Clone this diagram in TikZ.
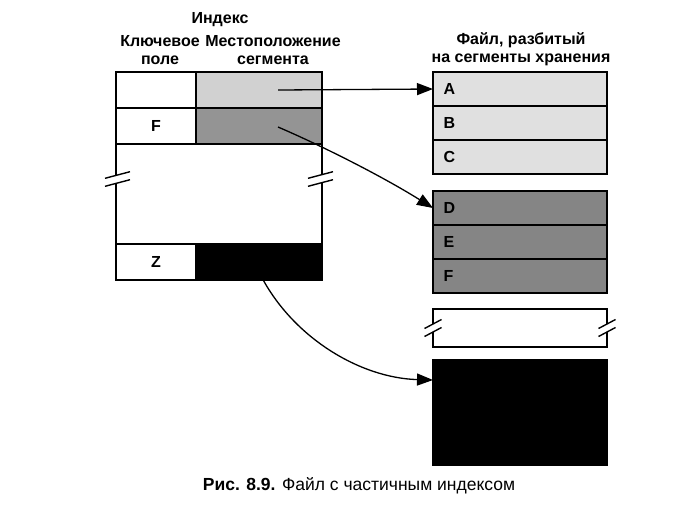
\documentclass[tikz,border=0pt]{standalone}
\usepackage{fontspec}
\setmainfont{Liberation Sans}
\usetikzlibrary{calc,positioning,arrows.meta}
\def\breakmark(#1)(#2:#3){%
	\fill[white] ($(#1)+(-#2,#3-4)$)--($(#1)+(#2,-#3-4)$)--($(#1)+(#2,-#3+4)$)--($(#1)+(-#2,#3+4)$)--cycle;
	\draw[line width=1.4pt] ($(#1)+(-#2,#3-4)$)--($(#1)+(#2,-#3-4)$);
	\draw[line width=1.4pt] ($(#1)+(-#2,#3+4)$)--($(#1)+(#2,-#3+4)$);}

\begin{document}
\begin{tikzpicture}[x=1pt,y=-1pt,
	every node/.style={font=\fontsize{16}{18}\selectfont\bfseries},
	box/.style={draw,line width=1.8pt,outer sep=0pt,inner sep=0pt},
	keycell/.style={box,minimum width=80pt,minimum height=36pt},
	loccell/.style={box,minimum width=126pt,minimum height=36pt},
	segment/.style={box,minimum height=34pt,text width=153pt,inner xsep=10.5pt,align=left},
	ptr/.style={line width=1.3pt,-{Triangle[length=16pt,width=12pt]}}]
	\useasboundingbox (0,0) rectangle (698,507);
	
	%INDEX
	\node[keycell,anchor=north west] (k1) at (116,72) {};
	\node[loccell,fill=black!18,right=0pt of k1] (l1) {};
	\node[keycell,below=0pt of k1] (kf) {F};
	\node[loccell,fill=black!42,right=0pt of kf] (lf) {};
	\node[box,minimum width=206pt,minimum height=100pt,anchor=north west] (gap) at (kf.south west) {};
	\node[keycell,anchor=north west] (kz) at (gap.south west) {Z};
	\node[loccell,fill=black,right=0pt of kz] (lz) {};
	%
	\coordinate (lbrk) at ($(gap.north west)+(1.5,35)$);
	\coordinate (rbrk) at ($(gap.north east)+(-1.5,35)$);
	\breakmark(lbrk)(12.5:3.3)
	\breakmark(rbrk)(12.5:3.3)
	
	%FILE
	\node[segment,fill=black!12,anchor=north west] (a) at (433,72) {A};
	\node[segment,fill=black!12,below=0pt of a] (b) {B};
	\node[segment,fill=black!12,below=0pt of b] (c) {C};
	\node[segment,fill=black!48,anchor=north west] (d) at (433,191) {D};
	\node[segment,fill=black!48,below=0pt of d] (e) {E};
	\node[segment,fill=black!48,below=0pt of e] (f) {F};
	\node[box,minimum width=174pt,minimum height=38pt,anchor=north west] (rest) at (433,309) {};
	\node[box,fill=black,minimum width=174pt,minimum height=105pt,anchor=north west] (last) at (433,360) {};
	%
	\breakmark(rest.west)(8.5:4.5)
	\breakmark(rest.east)(8.5:4.5)
	
	%POINTERS
	\coordinate (s1) at ($(l1.center)+(19,0)$);
	\coordinate (s2) at ($(lf.center)+(19,1)$);
	\coordinate (s3) at ($(lz.center)+(0,10)$);
	\coordinate (t3) at ($(last.north west)+(0,20)$);
	\draw[ptr] (s1) -- (a.west);
	\draw[ptr] (s2) .. controls +(42,18) and +(-53,-33) .. (d.west);
	\draw[ptr] (s3) .. controls +(32,65) and +(-73,-2) .. (t3);
	
	%LABELS
	\node (idx) at (220,20) {Индекс};
	\node[align=center] (keyhd) at (160,50.5) {Ключевое\\поле};
	\node[align=center] (lochd) at (273,50.5) {Местоположение\\сегмента};
	\node[align=center] (filehd) at (521,49) {Файл, разбитый\\на сегменты хранения};
	\node[font=\fontsize{17.5}{20}\selectfont] (cap) at (359,486) {\textbf{Рис. 8.9.} Файл с частичным индексом};
\end{tikzpicture}
\end{document}
